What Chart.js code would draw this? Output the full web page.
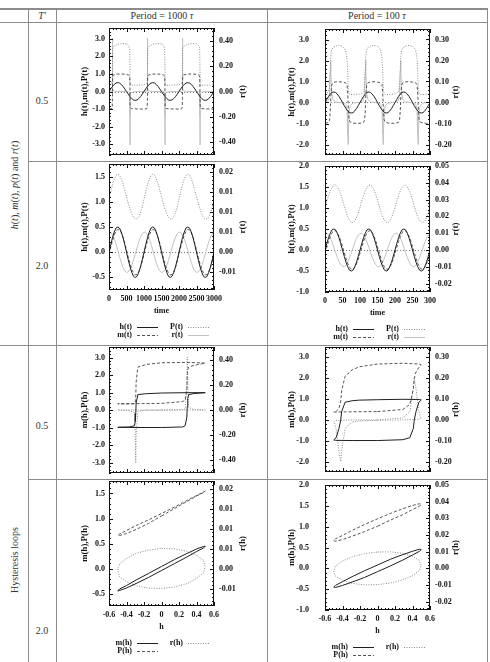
<!DOCTYPE html>
<html lang="en">
<head>
<meta charset="UTF-8">
<title>Hysteresis panels</title>
<script src="https://cdn.jsdelivr.net/npm/chart.js"></script>
<style>
  body { margin: 0; background: #fff; }
  #page { position: relative; width: 490px; height: 662px; overflow: hidden; font-family: "Liberation Serif", "Times New Roman", serif; color: #333; }
  .rule { position: absolute; background: #8c8c8c; }
  .lbl { position: absolute; font-size: 10px; white-space: nowrap; transform: translate(-50%, -50%); }
  .side { position: absolute; font-size: 10px; white-space: nowrap; transform: translate(-50%, -50%) rotate(-90deg); }
  canvas { position: absolute; }
</style>
</head>
<body>
<div id="page">
  <!-- table rules -->
  <div class="rule" style="left:0;top:8px;width:488px;height:2px"></div>
  <div class="rule" style="left:0;top:22px;width:488px;height:1px"></div>
  <div class="rule" style="left:28px;top:8px;width:1px;height:654px"></div>
  <div class="rule" style="left:56px;top:8px;width:1px;height:654px"></div>
  <div class="rule" style="left:267px;top:8px;width:1px;height:654px"></div>
  <div class="rule" style="left:487px;top:8px;width:1px;height:654px"></div>
  <div class="rule" style="left:28px;top:161px;width:460px;height:1px"></div>
  <div class="rule" style="left:0;top:345px;width:488px;height:1px"></div>
  <div class="rule" style="left:28px;top:479px;width:460px;height:1px"></div>

  <div class="lbl" style="left:42px;top:15px"><i>T′</i></div>
  <div class="lbl" style="left:162px;top:15px">Period = 1000 <i>τ</i></div>
  <div class="lbl" style="left:377px;top:15px">Period = 100 <i>τ</i></div>

  <div class="side" style="left:14px;top:185px"><i>h</i>(<i>t</i>), <i>m</i>(<i>t</i>), <i>p</i>(<i>t</i>) and <i>r</i>(<i>t</i>)</div>
  <div class="side" style="left:14px;top:560px">Hysteresis loops</div>

  <div class="lbl" style="left:42px;top:100px">0.5</div>
  <div class="lbl" style="left:42px;top:265px">2.0</div>
  <div class="lbl" style="left:42px;top:425px">0.5</div>
  <div class="lbl" style="left:42px;top:630px">2.0</div>

  <canvas id="c1" width="207" height="138" style="left:58px;top:22px"></canvas>
  <canvas id="c5" width="216" height="138" style="left:270px;top:22px"></canvas>
  <canvas id="c2" width="207" height="186" style="left:58px;top:158px"></canvas>
  <canvas id="c6" width="216" height="186" style="left:270px;top:158px"></canvas>
  <canvas id="c3" width="207" height="136" style="left:58px;top:342px"></canvas>
  <canvas id="c7" width="216" height="136" style="left:270px;top:342px"></canvas>
  <canvas id="c4" width="207" height="186" style="left:58px;top:476px"></canvas>
  <canvas id="c8" width="216" height="186" style="left:270px;top:476px"></canvas>
</div>

<script>
// ---- time grids ----
const tGrid1000 = [0,50,100,150,200,250,300,350,400,450,500,550,600,650,700,750,800,850,900,950,
  1000,1050,1100,1150,1200,1250,1300,1350,1400,1450,1500,1550,1600,1650,1700,1750,1800,1850,1900,1950,
  2000,2050,2100,2150,2200,2250,2300,2350,2400,2450,2500,2550,2600,2650,2700,2750,2800,2850,2900,2950,3000];
const tGrid100 = [0,5,10,15,20,25,30,35,40,45,50,55,60,65,70,75,80,85,90,95,
  100,105,110,115,120,125,130,135,140,145,150,155,160,165,170,175,180,185,190,195,
  200,205,210,215,220,225,230,235,240,245,250,255,260,265,270,275,280,285,290,295,300];

// applied field h(t), same shape for both periods
const hWave = [0,0.15,0.29,0.4,0.48,0.5,0.48,0.4,0.29,0.15,0,-0.15,-0.29,-0.4,-0.48,-0.5,-0.48,-0.4,-0.29,-0.15,
  0,0.15,0.29,0.4,0.48,0.5,0.48,0.4,0.29,0.15,0,-0.15,-0.29,-0.4,-0.48,-0.5,-0.48,-0.4,-0.29,-0.15,
  0,0.15,0.29,0.4,0.48,0.5,0.48,0.4,0.29,0.15,0,-0.15,-0.29,-0.4,-0.48,-0.5,-0.48,-0.4,-0.29,-0.15,0];

// T' = 2.0, period 1000
const mSlow1000 = [-0.04,0.1,0.23,0.34,0.41,0.45,0.44,0.39,0.3,0.18,0.04,-0.1,-0.23,-0.34,-0.41,-0.45,-0.44,-0.39,-0.3,-0.18,
  -0.04,0.1,0.23,0.34,0.41,0.45,0.44,0.39,0.3,0.18,0.04,-0.1,-0.23,-0.34,-0.41,-0.45,-0.44,-0.39,-0.3,-0.18,
  -0.04,0.1,0.23,0.34,0.41,0.45,0.44,0.39,0.3,0.18,0.04,-0.1,-0.23,-0.34,-0.41,-0.45,-0.44,-0.39,-0.3,-0.18,-0.04];
const pSlow1000 = [1.05,1.2,1.34,1.45,1.52,1.55,1.53,1.46,1.36,1.23,1.1,0.97,0.86,0.76,0.69,0.66,0.66,0.7,0.78,0.9,
  1.05,1.2,1.34,1.45,1.52,1.55,1.53,1.46,1.36,1.23,1.1,0.97,0.86,0.76,0.69,0.66,0.66,0.7,0.78,0.9,
  1.05,1.2,1.34,1.45,1.52,1.55,1.53,1.46,1.36,1.23,1.1,0.97,0.86,0.76,0.69,0.66,0.66,0.7,0.78,0.9,1.05];
const rSlow1000 = [0.005,0.0049,0.0043,0.0033,0.002,0.0005,-0.0011,-0.0025,-0.0038,-0.0046,-0.005,-0.0049,-0.0043,-0.0033,-0.002,-0.0005,0.0011,0.0025,0.0038,0.0046,
  0.005,0.0049,0.0043,0.0033,0.002,0.0005,-0.0011,-0.0025,-0.0038,-0.0046,-0.005,-0.0049,-0.0043,-0.0033,-0.002,-0.0005,0.0011,0.0025,0.0038,0.0046,
  0.005,0.0049,0.0043,0.0033,0.002,0.0005,-0.0011,-0.0025,-0.0038,-0.0046,-0.005,-0.0049,-0.0043,-0.0033,-0.002,-0.0005,0.0011,0.0025,0.0038,0.0046,0.005];

// T' = 2.0, period 100
const mSlow100 = [-0.08,0.06,0.2,0.32,0.41,0.45,0.46,0.41,0.33,0.22,0.08,-0.06,-0.2,-0.32,-0.41,-0.45,-0.46,-0.41,-0.33,-0.22,
  -0.08,0.06,0.2,0.32,0.41,0.45,0.46,0.41,0.33,0.22,0.08,-0.06,-0.2,-0.32,-0.41,-0.45,-0.46,-0.41,-0.33,-0.22,
  -0.08,0.06,0.2,0.32,0.41,0.45,0.46,0.41,0.33,0.22,0.08,-0.06,-0.2,-0.32,-0.41,-0.45,-0.46,-0.41,-0.33,-0.22,-0.08];
const pSlow100 = [1.01,1.16,1.29,1.41,1.49,1.54,1.55,1.51,1.43,1.32,1.19,1.05,0.91,0.79,0.71,0.66,0.65,0.69,0.77,0.88,
  1.01,1.16,1.29,1.41,1.49,1.54,1.55,1.51,1.43,1.32,1.19,1.05,0.91,0.79,0.71,0.66,0.65,0.69,0.77,0.88,
  1.01,1.16,1.29,1.41,1.49,1.54,1.55,1.51,1.43,1.32,1.19,1.05,0.91,0.79,0.71,0.66,0.65,0.69,0.77,0.88,1.01];
const rSlow100 = [0.0098,0.0099,0.009,0.0072,0.0047,0.0017,-0.0014,-0.0044,-0.0069,-0.0088,-0.0098,-0.0099,-0.009,-0.0072,-0.0047,-0.0017,0.0014,0.0044,0.0069,0.0088,
  0.0098,0.0099,0.009,0.0072,0.0047,0.0017,-0.0014,-0.0044,-0.0069,-0.0088,-0.0098,-0.0099,-0.009,-0.0072,-0.0047,-0.0017,0.0014,0.0044,0.0069,0.0088,
  0.0098,0.0099,0.009,0.0072,0.0047,0.0017,-0.0014,-0.0044,-0.0069,-0.0088,-0.0098,-0.0099,-0.009,-0.0072,-0.0047,-0.0017,0.0014,0.0044,0.0069,0.0088,0.0098];

// T' = 0.5, period 1000 (switching)
const tSharp1000 = [0,80,92,98,100,102,108,130,250,400,500,560,590,598,600,602,608,640,800,
  1000,1080,1092,1098,1100,1102,1108,1130,1250,1400,1500,1560,1590,1598,1600,1602,1608,1640,1800,
  2000,2080,2092,2098,2100,2102,2108,2130,2250,2400,2500,2560,2590,2598,2600,2602,2608,2640,2800,3000];
const mSharp1000 = [-1,-0.97,-0.9,-0.4,0.2,0.65,0.88,0.94,0.99,0.99,0.97,0.93,0.88,0.4,-0.2,-0.65,-0.9,-0.97,-0.99,
  -1,-0.97,-0.9,-0.4,0.2,0.65,0.88,0.94,0.99,0.99,0.97,0.93,0.88,0.4,-0.2,-0.65,-0.9,-0.97,-0.99,
  -1,-0.97,-0.9,-0.4,0.2,0.65,0.88,0.94,0.99,0.99,0.97,0.93,0.88,0.4,-0.2,-0.65,-0.9,-0.97,-0.99,-1];
const pSharp1000 = [0.38,0.48,0.55,1.2,2.0,2.3,2.45,2.55,2.68,2.72,2.7,2.6,2.45,1.6,0.8,0.45,0.36,0.35,0.36,
  0.38,0.48,0.55,1.2,2.0,2.3,2.45,2.55,2.68,2.72,2.7,2.6,2.45,1.6,0.8,0.45,0.36,0.35,0.36,
  0.38,0.48,0.55,1.2,2.0,2.3,2.45,2.55,2.68,2.72,2.7,2.6,2.45,1.6,0.8,0.45,0.36,0.35,0.36,0.38];
const rSharp1000 = [0,0.003,0.01,0.2,0.42,0.2,0.02,0.005,0,0,-0.001,-0.002,-0.01,-0.2,-0.42,-0.2,-0.02,-0.005,0,
  0,0.003,0.01,0.2,0.42,0.2,0.02,0.005,0,0,-0.001,-0.002,-0.01,-0.2,-0.42,-0.2,-0.02,-0.005,0,
  0,0.003,0.01,0.2,0.42,0.2,0.02,0.005,0,0,-0.001,-0.002,-0.01,-0.2,-0.42,-0.2,-0.02,-0.005,0,0];

// T' = 0.5, period 100
const tSharp100 = [0,10,13,15,16,17,19,22,30,40,50,57,60,63,65,66,67,69,72,80,90,
  100,110,113,115,116,117,119,122,130,140,150,157,160,163,165,166,167,169,172,180,190,
  200,210,213,215,216,217,219,222,230,240,250,257,260,263,265,266,267,269,272,280,290,300];
const mSharp100 = [-0.99,-0.95,-0.85,-0.4,0,0.4,0.82,0.93,0.98,0.99,0.97,0.95,0.92,0.85,0.4,0,-0.4,-0.82,-0.93,-0.98,-0.99,
  -0.99,-0.95,-0.85,-0.4,0,0.4,0.82,0.93,0.98,0.99,0.97,0.95,0.92,0.85,0.4,0,-0.4,-0.82,-0.93,-0.98,-0.99,
  -0.99,-0.95,-0.85,-0.4,0,0.4,0.82,0.93,0.98,0.99,0.97,0.95,0.92,0.85,0.4,0,-0.4,-0.82,-0.93,-0.98,-0.99,-0.99];
const pSharp100 = [0.4,0.5,0.75,1.5,2.0,2.3,2.5,2.6,2.68,2.72,2.68,2.55,2.4,2.1,1.4,0.9,0.55,0.42,0.38,0.38,0.39,
  0.4,0.5,0.75,1.5,2.0,2.3,2.5,2.6,2.68,2.72,2.68,2.55,2.4,2.1,1.4,0.9,0.55,0.42,0.38,0.38,0.39,
  0.4,0.5,0.75,1.5,2.0,2.3,2.5,2.6,2.68,2.72,2.68,2.55,2.4,2.1,1.4,0.9,0.55,0.42,0.38,0.38,0.39,0.4];
const rSharp100 = [0,0.01,0.04,0.15,0.2,0.15,0.05,0.015,0.003,0,-0.002,-0.005,-0.01,-0.04,-0.15,-0.2,-0.15,-0.05,-0.015,-0.003,0,
  0,0.01,0.04,0.15,0.2,0.15,0.05,0.015,0.003,0,-0.002,-0.005,-0.01,-0.04,-0.15,-0.2,-0.15,-0.05,-0.015,-0.003,0,
  0,0.01,0.04,0.15,0.2,0.15,0.05,0.015,0.003,0,-0.002,-0.005,-0.01,-0.04,-0.15,-0.2,-0.15,-0.05,-0.015,-0.003,0,0];

// one steady cycle of the loops for T' = 0.5
const hLoop1000 = [0,0.24,0.27,0.29,0.294,0.3,0.31,0.37,0.5,0.29,0,-0.18,-0.27,-0.29,-0.294,-0.3,-0.31,-0.37,-0.5,-0.48,-0.29,0];
const mLoop1000 = [-1,-0.97,-0.9,-0.4,0.2,0.65,0.88,0.94,0.99,0.99,0.97,0.93,0.88,0.4,-0.2,-0.65,-0.9,-0.97,-0.99,-0.99,-1,-1];
const pLoop1000 = [0.38,0.48,0.55,1.2,2.0,2.3,2.45,2.55,2.68,2.72,2.7,2.6,2.45,1.6,0.8,0.45,0.36,0.35,0.35,0.36,0.36,0.38];
const rLoop1000 = [0,0.003,0.01,0.2,0.42,0.2,0.02,0.005,0,0,-0.001,-0.002,-0.01,-0.2,-0.42,-0.2,-0.02,-0.005,0,0,0,0];

const hLoop100 = [0,0.29,0.37,0.41,0.42,0.44,0.47,0.49,0.5,0.48,0.29,0,-0.21,-0.29,-0.37,-0.41,-0.42,-0.44,-0.47,-0.49,-0.5,-0.48,-0.29,0];
const mLoop100 = [-0.99,-0.95,-0.85,-0.4,0,0.4,0.82,0.93,0.96,0.98,0.99,0.97,0.95,0.92,0.85,0.4,0,-0.4,-0.82,-0.93,-0.96,-0.98,-0.99,-0.99];
const pLoop100 = [0.4,0.5,0.75,1.5,2.0,2.3,2.5,2.6,2.64,2.68,2.72,2.68,2.55,2.4,2.1,1.4,0.9,0.55,0.42,0.38,0.38,0.38,0.39,0.4];
const rLoop100 = [0,0.01,0.04,0.15,0.2,0.15,0.05,0.015,0.008,0.003,0,-0.002,-0.005,-0.01,-0.04,-0.15,-0.2,-0.15,-0.05,-0.015,-0.008,-0.003,0,0];

// ---- tick values and labels ----
const ticksX1000 = [0,500,1000,1500,2000,2500,3000];
const labelsX1000 = ['0','500','1000','1500','2000','2500','3000'];
const ticksX100 = [0,50,100,150,200,250,300];
const labelsX100 = ['0','50','100','150','200','250','300'];
const ticksH = [-0.6,-0.4,-0.2,0,0.2,0.4,0.6];
const labelsH = ['-0.6','-0.4','-0.2','0','0.2','0.4','0.6'];

const ticksYFast1000 = [-3,-2,-1,0,1,2,3];
const labelsYFast1000 = ['-3.0','-2.0','-1.0','0.0','1.0','2.0','3.0'];
const ticksRFast1000 = [-0.4,-0.2,0,0.2,0.4];
const labelsRFast1000 = ['-0.40','-0.20','0.00','0.20','0.40'];
const ticksYFast100 = [-2,-1,0,1,2,3];
const labelsYFast100 = ['-2.0','-1.0','0.0','1.0','2.0','3.0'];
const ticksRFast100 = [-0.2,-0.1,0,0.1,0.2,0.3];
const labelsRFast100 = ['-0.20','-0.10','0.00','0.10','0.20','0.30'];
const ticksYSlow1000 = [-0.5,0,0.5,1,1.5];
const labelsYSlow1000 = ['-0.5','0.0','0.5','1.0','1.5'];
const ticksRSlow1000 = [-0.005,0,0.005,0.01,0.015,0.02];
const labelsRSlow1000 = ['-0.01','0.00','0.01','0.01','0.01','0.02'];
const ticksYSlow100 = [-1,-0.5,0,0.5,1,1.5,2];
const labelsYSlow100 = ['-1.0','-0.5','0.0','0.5','1.0','1.5','2.0'];
const ticksRSlow100 = [-0.02,-0.01,0,0.01,0.02,0.03,0.04,0.05];
const labelsRSlow100 = ['-0.02','-0.01','0.00','0.01','0.02','0.03','0.04','0.05'];

Chart.defaults.font.family = '"Liberation Serif", "Times New Roman", serif';
Chart.defaults.font.size = 8;
Chart.defaults.font.weight = 'bold';
Chart.defaults.color = '#111';

const lineSolid = { borderColor: '#1e1e1e', borderWidth: 1 };
const lineDash = { borderColor: '#555', borderWidth: 1, borderDash: [3, 2] };
const lineDot = { borderColor: '#8a8a8a', borderWidth: 1, borderDash: [1, 1.5] };
const lineLight = { borderColor: '#c2c2c2', borderWidth: 1 };

function pts(xs, ys) {
  return xs.map((x, i) => ({ x: x, y: ys[i] }));
}

function series(label, xs, ys, style, axis) {
  return Object.assign({ label: label, data: pts(xs, ys), yAxisID: axis || 'y', pointRadius: 0, fill: false }, style);
}

// gnuplot-like frame: border, inward ticks, zero axis, titles, key
const gnuFrame = {
  id: 'gnuFrame',
  beforeDatasetsDraw(chart, args, o) {
    if (!o.zeroAxis) return;
    const { ctx, chartArea: a } = chart;
    const y = Math.round(chart.scales.y.getPixelForValue(0)) + 0.5;
    ctx.save();
    ctx.strokeStyle = '#777';
    ctx.lineWidth = 1;
    ctx.setLineDash([1, 2]);
    ctx.beginPath();
    ctx.moveTo(a.left, y);
    ctx.lineTo(a.right, y);
    ctx.stroke();
    ctx.restore();
  },
  afterDraw(chart, args, o) {
    const { ctx, chartArea: a, scales } = chart;
    ctx.save();
    ctx.strokeStyle = '#111';
    ctx.lineWidth = 1;
    ctx.setLineDash([]);
    ctx.strokeRect(a.left + 0.5, a.top + 0.5, a.right - a.left - 1, a.bottom - a.top - 1);

    const marks = (scale) => {
      const vals = scale.ticks.map(t => t.value);
      const sub = (vals[1] - vals[0]) / 5;
      const minor = [];
      for (let k = -10; k <= (vals.length - 1) * 5 + 10; k++) {
        const v = vals[0] + k * sub;
        if (v >= scale.min - 1e-9 && v <= scale.max + 1e-9 && k % 5 !== 0) minor.push(v);
      }
      return { vals, minor };
    };
    ctx.beginPath();
    const mx = marks(scales.x);
    [[mx.vals, 4], [mx.minor, 2]].forEach(([list, len]) => list.forEach(v => {
      const x = Math.round(scales.x.getPixelForValue(v)) + 0.5;
      ctx.moveTo(x, a.bottom); ctx.lineTo(x, a.bottom - len);
      ctx.moveTo(x, a.top); ctx.lineTo(x, a.top + len);
    }));
    const my = marks(scales.y);
    [[my.vals, 4], [my.minor, 2]].forEach(([list, len]) => list.forEach(v => {
      const y = Math.round(scales.y.getPixelForValue(v)) + 0.5;
      ctx.moveTo(a.left, y); ctx.lineTo(a.left + len, y);
    }));
    const mr = marks(scales.y2);
    [[mr.vals, 4], [mr.minor, 2]].forEach(([list, len]) => list.forEach(v => {
      const y = Math.round(scales.y2.getPixelForValue(v)) + 0.5;
      ctx.moveTo(a.right, y); ctx.lineTo(a.right - len, y);
    }));
    ctx.stroke();

    ctx.fillStyle = '#111';
    ctx.font = 'bold 9px "Liberation Serif", serif';
    ctx.textAlign = 'center';
    ctx.textBaseline = 'middle';
    const midY = (a.top + a.bottom) / 2;
    [[o.yTitle, a.left - o.yGap], [o.y2Title, a.right + o.y2Gap]].forEach(([txt, x]) => {
      ctx.save();
      ctx.translate(x, midY);
      ctx.rotate(-Math.PI / 2);
      ctx.fillText(txt, 0, 0);
      ctx.restore();
    });
    ctx.font = 'bold 8px "Liberation Serif", serif';
    if (o.xTitle) ctx.fillText(o.xTitle, (a.left + a.right) / 2, a.bottom + 21);

    (o.key || []).forEach(k => {
      const ds = chart.data.datasets[k.ds];
      const y = a.bottom + 37 + k.row * 8;
      const x0 = a.left + k.col * 51;
      ctx.textAlign = 'right';
      ctx.fillText(ds.label, x0 + 23, y);
      ctx.save();
      ctx.strokeStyle = ds.borderColor;
      ctx.setLineDash(ds.borderDash || []);
      ctx.beginPath();
      ctx.moveTo(x0 + 28, Math.round(y) + 0.5);
      ctx.lineTo(x0 + 49, Math.round(y) + 0.5);
      ctx.stroke();
      ctx.restore();
    });
    ctx.restore();
  }
};

// fixed-size axis; paddings cleared so the plot box stays where it is set
function axis(pos, min, max, vals, labels, show, size, pad) {
  return {
    type: 'linear', position: pos, min: min, max: max,
    grid: { display: false, drawTicks: false },
    border: { display: false },
    afterBuildTicks: s => { s.ticks = vals.map(v => ({ value: v })); },
    ticks: { display: show, padding: pad, autoSkip: false, maxRotation: 0, callback: (v, i) => labels[i] },
    afterFit: s => {
      if (pos === 'bottom') s.height = size; else s.width = size;
      s.paddingTop = 0; s.paddingBottom = 0; s.paddingLeft = 0; s.paddingRight = 0;
    }
  };
}

function panel(id, p) {
  return new Chart(document.getElementById(id), {
    type: 'line',
    data: { datasets: p.datasets },
    options: {
      responsive: false,
      animation: false,
      events: [],
      layout: { padding: { top: p.padT } },
      elements: { point: { radius: 0 }, line: { tension: 0 } },
      plugins: { legend: { display: false }, tooltip: { enabled: false }, gnuFrame: p.frame },
      scales: { x: p.x, y: p.y, y2: p.y2 }
    },
    plugins: [gnuFrame]
  });
}

const keyTime = [{ ds: 0, col: 0, row: 0 }, { ds: 1, col: 0, row: 1 }, { ds: 2, col: 1, row: 0 }, { ds: 3, col: 1, row: 1 }];
const keyLoop = [{ ds: 0, col: 0, row: 0 }, { ds: 1, col: 0, row: 1 }, { ds: 2, col: 1, row: 0 }];

// period 1000, T' = 0.5
panel('c1', {
  padT: 6,
  datasets: [
    series('h(t)', tGrid1000, hWave, lineSolid),
    series('m(t)', tSharp1000, mSharp1000, lineDash),
    series('P(t)', tSharp1000, pSharp1000, lineDot),
    series('r(t)', tSharp1000, rSharp1000, lineLight, 'y2')
  ],
  x: axis('bottom', 0, 3000, ticksX1000, labelsX1000, false, 5, 4),
  y: axis('left', -3.6, 3.6, ticksYFast1000, labelsYFast1000, true, 51, 4),
  y2: axis('right', -0.5, 0.5, ticksRFast1000, labelsRFast1000, true, 51, 5),
  frame: { zeroAxis: true, yTitle: 'h(t),m(t),P(t)', y2Title: 'r(t)', yGap: 24, y2Gap: 29 }
});

// period 100, T' = 0.5
panel('c5', {
  padT: 7,
  datasets: [
    series('h(t)', tGrid100, hWave, lineSolid),
    series('m(t)', tSharp100, mSharp100, lineDash),
    series('P(t)', tSharp100, pSharp100, lineDot),
    series('r(t)', tSharp100, rSharp100, lineLight, 'y2')
  ],
  x: axis('bottom', 0, 300, ticksX100, labelsX100, false, 5, 4),
  y: axis('left', -2.5, 3.5, ticksYFast100, labelsYFast100, true, 55, 16),
  y2: axis('right', -0.25, 0.35, ticksRFast100, labelsRFast100, true, 56, 5),
  frame: { zeroAxis: true, yTitle: 'h(t),m(t),P(t)', y2Title: 'r(t)', yGap: 33, y2Gap: 26 }
});

// period 1000, T' = 2.0
panel('c2', {
  padT: 6,
  datasets: [
    series('h(t)', tGrid1000, hWave, lineSolid),
    series('m(t)', tGrid1000, mSlow1000, lineDash),
    series('P(t)', tGrid1000, pSlow1000, lineDot),
    series('r(t)', tGrid1000, rSlow1000, lineLight, 'y2')
  ],
  x: axis('bottom', 0, 3000, ticksX1000, labelsX1000, true, 54, 4),
  y: axis('left', -0.75, 1.75, ticksYSlow1000, labelsYSlow1000, true, 51, 4),
  y2: axis('right', -0.009375, 0.021875, ticksRSlow1000, labelsRSlow1000, true, 51, 5),
  frame: { zeroAxis: true, yTitle: 'h(t),m(t),P(t)', y2Title: 'r(t)', yGap: 24, y2Gap: 29, xTitle: 'time', key: keyTime }
});

// period 100, T' = 2.0
panel('c6', {
  padT: 8,
  datasets: [
    series('h(t)', tGrid100, hWave, lineSolid),
    series('m(t)', tGrid100, mSlow100, lineDash),
    series('P(t)', tGrid100, pSlow100, lineDot),
    series('r(t)', tGrid100, rSlow100, lineLight, 'y2')
  ],
  x: axis('bottom', 0, 300, ticksX100, labelsX100, true, 52, 4),
  y: axis('left', -1, 2, ticksYSlow100, labelsYSlow100, true, 55, 16),
  y2: axis('right', -0.025, 0.05, ticksRSlow100, labelsRSlow100, true, 56, 5),
  frame: { zeroAxis: true, yTitle: 'h(t),m(t),P(t)', y2Title: 'r(t)', yGap: 33, y2Gap: 26, xTitle: 'time', key: keyTime }
});

// hysteresis loops, T' = 0.5
panel('c3', {
  padT: 5,
  datasets: [
    series('m(h)', hLoop1000, mLoop1000, lineSolid),
    series('P(h)', hLoop1000, pLoop1000, lineDash),
    series('r(h)', hLoop1000, rLoop1000, lineDot, 'y2')
  ],
  x: axis('bottom', -0.6, 0.6, ticksH, labelsH, false, 5, 4),
  y: axis('left', -3.6, 3.6, ticksYFast1000, labelsYFast1000, true, 51, 4),
  y2: axis('right', -0.5, 0.5, ticksRFast1000, labelsRFast1000, true, 51, 5),
  frame: { yTitle: 'm(h),P(h)', y2Title: 'r(h)', yGap: 24, y2Gap: 29 }
});

panel('c7', {
  padT: 5,
  datasets: [
    series('m(h)', hLoop100, mLoop100, lineSolid),
    series('P(h)', hLoop100, pLoop100, lineDash),
    series('r(h)', hLoop100, rLoop100, lineDot, 'y2')
  ],
  x: axis('bottom', -0.6, 0.6, ticksH, labelsH, false, 6, 4),
  y: axis('left', -2.5, 3.5, ticksYFast100, labelsYFast100, true, 55, 16),
  y2: axis('right', -0.25, 0.35, ticksRFast100, labelsRFast100, true, 56, 5),
  frame: { yTitle: 'm(h),P(h)', y2Title: 'r(h)', yGap: 33, y2Gap: 26 }
});

// hysteresis loops, T' = 2.0: last driving period of the time series
panel('c4', {
  padT: 5,
  datasets: [
    series('m(h)', hWave.slice(40), mSlow1000.slice(40), lineSolid),
    series('P(h)', hWave.slice(40), pSlow1000.slice(40), lineDash),
    series('r(h)', hWave.slice(40), rSlow1000.slice(40), lineDot, 'y2')
  ],
  x: axis('bottom', -0.6, 0.6, ticksH, labelsH, true, 56, 4),
  y: axis('left', -0.75, 1.75, ticksYSlow1000, labelsYSlow1000, true, 51, 4),
  y2: axis('right', -0.009375, 0.021875, ticksRSlow1000, labelsRSlow1000, true, 51, 5),
  frame: { yTitle: 'm(h),P(h)', y2Title: 'r(h)', yGap: 24, y2Gap: 29, xTitle: 'h', key: keyLoop }
});

panel('c8', {
  padT: 9,
  datasets: [
    series('m(h)', hWave.slice(40), mSlow100.slice(40), lineSolid),
    series('P(h)', hWave.slice(40), pSlow100.slice(40), lineDash),
    series('r(h)', hWave.slice(40), rSlow100.slice(40), lineDot, 'y2')
  ],
  x: axis('bottom', -0.6, 0.6, ticksH, labelsH, true, 52, 4),
  y: axis('left', -1, 2, ticksYSlow100, labelsYSlow100, true, 55, 16),
  y2: axis('right', -0.025, 0.05, ticksRSlow100, labelsRSlow100, true, 56, 5),
  frame: { yTitle: 'm(h),P(h)', y2Title: 'r(h)', yGap: 33, y2Gap: 26, xTitle: 'h', key: keyLoop }
});
</script>
</body>
</html>
